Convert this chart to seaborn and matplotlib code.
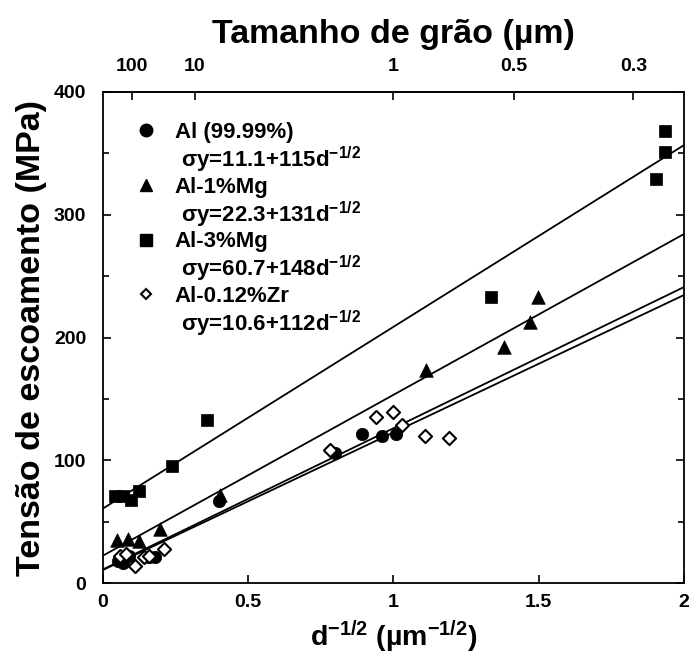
import numpy as np
import pandas as pd
import matplotlib
matplotlib.use("Agg")
import matplotlib.pyplot as plt
from matplotlib.ticker import MultipleLocator
from matplotlib.lines import Line2D
import seaborn as sns

# Daten
al_x = [0.05, 0.07, 0.09, 0.16, 0.18, 0.40, 0.80, 0.89, 0.96, 1.01]
al_y = [18, 16, 22, 21, 21, 67, 106, 121, 120, 121]

mg1_x = [0.047, 0.087, 0.125, 0.196, 0.403, 1.112, 1.380, 1.470, 1.498]
mg1_y = [35, 36, 34.5, 44, 72, 173.5, 192, 213, 233]

mg3_x = [0.041, 0.070, 0.095, 0.125, 0.236, 0.359, 1.335, 1.904, 1.935, 1.935]
mg3_y = [71, 71, 67.5, 75, 95, 133, 233, 329, 351, 368]

zr_x = [0.06, 0.08, 0.11, 0.14, 0.16, 0.21, 0.78, 0.94, 1.00, 1.03, 1.11, 1.19]
zr_y = [22, 24, 14, 21, 22, 28, 108, 135, 139, 129, 120, 118]

# Hall-Petch Geraden: sigma_y = a + b * d^-1/2
namen = ["Al (99.99%)", "Al-1%Mg", "Al-3%Mg", "Al-0.12%Zr"]
achsenabschnitt = [11.1, 22.3, 60.7, 10.6]
steigung = [115, 131, 148, 112]
fit_x = [0, 2]

# obere Achse: Korngroesse
korn_labels = ["100", "10", "1", "0.5", "0.3"]
korn_werte = [100, 10, 1, 0.5, 0.3]

sns.set_theme(style="ticks")
plt.rcParams['font.family'] = ['Liberation Sans', 'DejaVu Sans']
plt.rcParams['font.weight'] = 'bold'
plt.rcParams['mathtext.default'] = 'regular'
plt.rcParams['text.color'] = 'black'
plt.rcParams['axes.labelcolor'] = 'black'
plt.rcParams['xtick.color'] = 'black'
plt.rcParams['ytick.color'] = 'black'

fig = plt.figure(figsize=(6.93, 6.57), dpi=100)
ax = fig.add_axes([0.1486, 0.1126, 0.8384, 0.7474])

# Geraden zeichnen
for a, b in zip(achsenabschnitt, steigung):
    fy = [a + b * xx for xx in fit_x]
    sns.lineplot(x=fit_x, y=fy, ax=ax, color="black", linewidth=1.3, legend=False)

# Messpunkte
sns.scatterplot(x=al_x, y=al_y, ax=ax, marker="o", color="black", s=80,
                edgecolor="black", linewidth=0.5, legend=False, zorder=3)
sns.scatterplot(x=mg1_x, y=mg1_y, ax=ax, marker="^", color="black", s=95,
                edgecolor="black", linewidth=0.5, legend=False, zorder=3)
sns.scatterplot(x=mg3_x, y=mg3_y, ax=ax, marker="s", color="black", s=85,
                edgecolor="black", linewidth=0.5, legend=False, zorder=3)
sns.scatterplot(x=zr_x, y=zr_y, ax=ax, marker="D", color="white", s=45,
                edgecolor="black", linewidth=1.5, legend=False, zorder=3)

ax.set_xlim(0, 2)
ax.set_ylim(0, 400)
ax.set_xticks([0, 0.5, 1, 1.5, 2])
ax.set_xticklabels(["0", "0.5", "1", "1.5", "2"])
ax.set_yticks([0, 100, 200, 300, 400])
ax.yaxis.set_minor_locator(MultipleLocator(50))
ax.tick_params(axis="both", which="both", direction="in", labelsize=14,
               right=True, top=False, color="black", width=1.2)
ax.tick_params(axis="both", which="major", length=6)
ax.tick_params(axis="both", which="minor", length=4)
ax.tick_params(axis="x", pad=8)
ax.tick_params(axis="y", pad=12)
for sp in ax.spines.values():
    sp.set_visible(True)
    sp.set_linewidth(1.3)
    sp.set_color("black")

ax.set_xlabel("d$^{-1/2}$ (µm$^{-1/2}$)", fontsize=20.5, fontweight="bold", labelpad=5)
ax.set_ylabel("Tensão de escoamento (MPa)", fontsize=24.5, fontweight="bold", labelpad=5)

# obere Achse mit Korngroesse
sec = ax.secondary_xaxis("top", functions=(lambda v: v, lambda v: v))
sec.set_xticks([k ** -0.5 for k in korn_werte])
sec.set_xticklabels(korn_labels)
sec.tick_params(direction="in", length=6, width=1.2, labelsize=14, pad=12,
                color="black", labelcolor="black")
sec.spines["top"].set_linewidth(1.3)
sec.set_xlabel("Tamanho de grão (µm)", fontsize=24.5, fontweight="bold", labelpad=11)

# Legende mit Gleichungen
handles = [
    Line2D([0], [0], marker="o", color="black", linestyle="none", markersize=9),
    Line2D([0], [0], linestyle="none"),
    Line2D([0], [0], marker="^", color="black", linestyle="none", markersize=9),
    Line2D([0], [0], linestyle="none"),
    Line2D([0], [0], marker="s", color="black", linestyle="none", markersize=8),
    Line2D([0], [0], linestyle="none"),
    Line2D([0], [0], marker="D", markerfacecolor="white", markeredgecolor="black",
           markeredgewidth=1.5, linestyle="none", markersize=5.5),
    Line2D([0], [0], linestyle="none"),
]
labels = []
for n, a, b in zip(namen, achsenabschnitt, steigung):
    labels.append(n)
    labels.append(" σy=" + f"{a}+{b}" + "d$^{-1/2}$")
ax.legend(handles=handles, labels=labels, loc="upper left", frameon=False,
          prop={"size": 16, "weight": "bold"}, handlelength=1.0, handletextpad=0.8,
          labelspacing=0.08, borderaxespad=0.5, bbox_to_anchor=(0.02, 0.98))

fig.savefig("out.png", dpi=100)
